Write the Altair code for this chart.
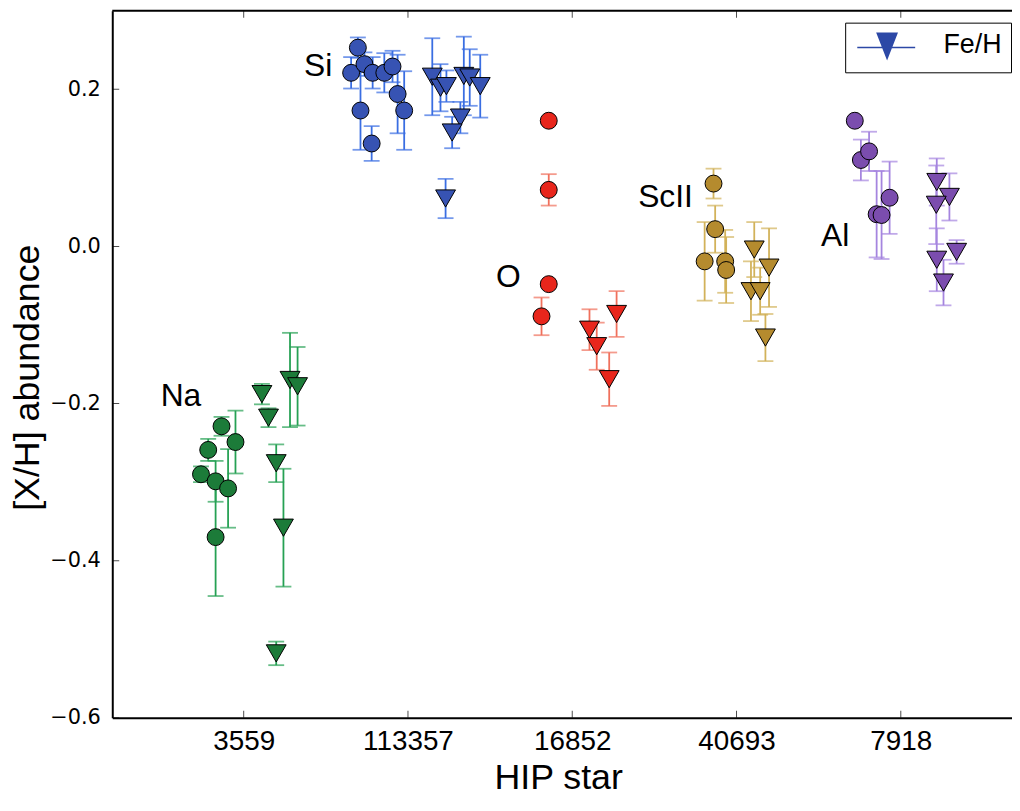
import altair as alt
import pandas as pd

# ---------------- data ----------------
stars = ["3559", "113357", "16852", "40693", "7918"]
star_pos = [1, 2, 3, 4, 5]
y_ticks = [-0.6, -0.4, -0.2, 0.0, 0.2]
x_domain = [0.2, 5.677]
y_domain = [-0.6, 0.3]
elements = ["Na", "Si", "O", "ScII", "Al"]
marker_colors = ["#1c7b39", "#3753b3", "#e8261c", "#b58b2e", "#7b4dae"]
bar_colors = ["#26a154", "#3a6ee2", "#f0705c", "#d2b25a", "#a585df"]

# [X/H] values (circles): x position, value, error
na_xh_x = [0.865, 0.950, 0.784, 0.740, 0.829, 0.905, 0.829]
na_xh_y = [-0.229, -0.249, -0.259, -0.290, -0.299, -0.308, -0.370]
na_xh_e = [0.012, 0.040, 0.014, 0.010, 0.026, 0.050, 0.075]
si_xh_x = [1.695, 1.654, 1.735, 1.785, 1.856, 1.906, 1.937, 1.977, 1.711, 1.779]
si_xh_y = [0.253, 0.221, 0.232, 0.221, 0.221, 0.229, 0.194, 0.173, 0.173, 0.131]
si_xh_e = [0.013, 0.020, 0.015, 0.020, 0.025, 0.020, 0.050, 0.050, 0.050, 0.022]
o_xh_x = [2.857, 2.857, 2.857, 2.813]
o_xh_y = [0.160, 0.072, -0.048, -0.089]
o_xh_e = [0.004, 0.020, 0.004, 0.024]
sc_xh_x = [3.860, 3.870, 3.806, 3.931, 3.937]
sc_xh_y = [0.080, 0.022, -0.019, -0.019, -0.030]
sc_xh_e = [0.019, 0.030, 0.050, 0.040, 0.042]
al_xh_x = [4.720, 4.757, 4.807, 4.932, 4.853, 4.883]
al_xh_y = [0.160, 0.110, 0.121, 0.062, 0.041, 0.040]
al_xh_e = [0.004, 0.026, 0.025, 0.046, 0.055, 0.056]

# [Fe/H] values (triangles): x position, value, error
na_fe_x = [1.111, 1.151, 1.198, 1.242, 1.198, 1.282, 1.328]
na_fe_y = [-0.188, -0.218, -0.276, -0.358, -0.518, -0.170, -0.178]
na_fe_e = [0.013, 0.012, 0.024, 0.075, 0.015, 0.060, 0.050]
si_fe_x = [2.148, 2.198, 2.234, 2.340, 2.376, 2.440, 2.319, 2.269, 2.229]
si_fe_y = [0.216, 0.202, 0.204, 0.217, 0.215, 0.204, 0.164, 0.145, 0.061]
si_fe_e = [0.049, 0.030, 0.020, 0.050, 0.036, 0.040, 0.020, 0.020, 0.025]
o_fe_x = [3.105, 3.149, 3.225, 3.270]
o_fe_y = [-0.106, -0.127, -0.169, -0.086]
o_fe_e = [0.026, 0.030, 0.034, 0.029]
sc_fe_x = [4.108, 4.198, 4.088, 4.144, 4.176]
sc_fe_y = [-0.004, -0.027, -0.057, -0.057, -0.116]
sc_fe_e = [0.035, 0.050, 0.038, 0.030, 0.030]
al_fe_x = [5.219, 5.296, 5.216, 5.340, 5.219, 5.260]
al_fe_y = [0.082, 0.063, 0.053, -0.007, -0.017, -0.046]
al_fe_e = [0.030, 0.030, 0.050, 0.015, 0.040, 0.029]

# element labels
label_x = [0.618, 1.453, 2.611, 3.568, 4.601]
label_y = [-0.2035, 0.2175, -0.0518, 0.0506, 0.0]

# ---------------- table ----------------
groups = [
    ("Na", "XH", na_xh_x, na_xh_y, na_xh_e), ("Na", "FeH", na_fe_x, na_fe_y, na_fe_e),
    ("Si", "XH", si_xh_x, si_xh_y, si_xh_e), ("Si", "FeH", si_fe_x, si_fe_y, si_fe_e),
    ("O", "XH", o_xh_x, o_xh_y, o_xh_e), ("O", "FeH", o_fe_x, o_fe_y, o_fe_e),
    ("ScII", "XH", sc_xh_x, sc_xh_y, sc_xh_e), ("ScII", "FeH", sc_fe_x, sc_fe_y, sc_fe_e),
    ("Al", "XH", al_xh_x, al_xh_y, al_xh_e), ("Al", "FeH", al_fe_x, al_fe_y, al_fe_e),
]
rows = []
for el, kind, xs, ys, es in groups:
    for x, y, e in zip(xs, ys, es):
        rows.append({"element": el, "kind": kind, "x": x, "y": y, "lo": y - e, "hi": y + e})
df = pd.DataFrame(rows)
labels_df = pd.DataFrame({"label": elements, "x": label_x, "y": label_y})

# ---------------- scales / axes ----------------
FONT = "Liberation Sans"
xscale = alt.Scale(domain=x_domain, nice=False, zero=False)
yscale = alt.Scale(domain=y_domain, nice=False, zero=False)
bar_scale = alt.Scale(domain=elements, range=bar_colors)
mk_scale = alt.Scale(domain=elements, range=marker_colors)

label_expr = " : ".join(
    f"datum.value == {p} ? '{s}'" for p, s in zip(star_pos, stars)
) + " : ''"

XAXIS = alt.Axis(values=star_pos, labelExpr=label_expr, title="HIP star",
                 labelFontSize=28, labelPadding=10,
                 titleFontSize=36, titleX=449, titleY=71, titleBaseline="alphabetic")
YAXIS = alt.Axis(values=y_ticks, format=".1f", title="[X/H] abundance",
                 labelFont="DejaVu Sans", labelFontSize=21, labelPadding=12,
                 titleFontSize=36, titleX=-66, titleY=369)


def X(f):
    return alt.X(f, scale=xscale, axis=XAXIS)


def Y(f):
    return alt.Y(f, scale=yscale, axis=YAXIS)


base = alt.Chart(df)

err = base.mark_rule(strokeWidth=1.8).encode(
    x=X("x:Q"), y=Y("lo:Q"), y2=alt.Y2("hi"),
    color=alt.Color("element:N", scale=bar_scale, legend=None),
)
cap_lo = base.mark_tick(orient="horizontal", size=16, thickness=1.8).encode(
    x=X("x:Q"), y=Y("lo:Q"), color=alt.Color("element:N", scale=bar_scale, legend=None),
)
cap_hi = base.mark_tick(orient="horizontal", size=16, thickness=1.8).encode(
    x=X("x:Q"), y=Y("hi:Q"), color=alt.Color("element:N", scale=bar_scale, legend=None),
)
circles = base.transform_filter(alt.datum.kind == "XH").mark_point(
    shape="circle", filled=True, size=290, opacity=1, stroke="black", strokeWidth=1
).encode(x=X("x:Q"), y=Y("y:Q"), fill=alt.Fill("element:N", scale=mk_scale, legend=None))
tris = base.transform_filter(alt.datum.kind == "FeH").mark_point(
    shape="triangle-down", filled=True, size=400, opacity=1, stroke="black", strokeWidth=1
).encode(x=X("x:Q"), y=Y("y:Q"), fill=alt.Fill("element:N", scale=mk_scale, legend=None))
texts = alt.Chart(labels_df).mark_text(
    font=FONT, fontSize=32, align="center", baseline="alphabetic", color="black"
).encode(x=X("x:Q"), y=Y("y:Q"), text="label:N")

# inward ticks (clipped at the frame) and top frame line
xt_df = pd.DataFrame({"t": star_pos, "bot": y_domain[0], "top": y_domain[1]})
yt_df = pd.DataFrame({"t": y_ticks, "left": x_domain[0]})
bottom_ticks = alt.Chart(xt_df).mark_tick(orient="vertical", size=14, thickness=1,
                                          color="black", clip=True).encode(
    x=X("t:Q"), y=Y("bot:Q"))
top_ticks = alt.Chart(xt_df).mark_tick(orient="vertical", size=14, thickness=1,
                                       color="black", clip=True).encode(
    x=X("t:Q"), y=Y("top:Q"))
left_ticks = alt.Chart(yt_df).mark_tick(orient="horizontal", size=14, thickness=1,
                                        color="black", clip=True).encode(
    y=Y("t:Q"), x=X("left:Q"))
top_line = alt.Chart(pd.DataFrame({"t": [y_domain[1]]})).mark_rule(
    color="black", strokeWidth=2).encode(y=Y("t:Q"))

# legend (Fe/H): line through a down-pointing triangle
LEG_PATH = ("M-1.03,0.17H4.8V0.33H-1.03Z"
            "M0.87,-1.25H3.07L1.97,1.55Z")
legend_layer = alt.Chart(pd.DataFrame({"leg": ["Fe/H"], "x": [0.0], "y": [0.0]})).mark_point(
    filled=True, clip=True, opacity=1, color="#2c48a6"
).encode(
    x=X("x:Q"), y=Y("y:Q"),
    shape=alt.Shape("leg:N", scale=alt.Scale(domain=["Fe/H"], range=[LEG_PATH]),
                    legend=alt.Legend(title=None, orient="none", legendX=738, legendY=12,
                                      padding=9, labelFont=FONT, labelFontSize=27,
                                      labelColor="black", labelOffset=63, symbolSize=400,
                                      strokeColor="black", fillColor="white",
                                      symbolFillColor="#2c48a6", symbolOpacity=1)),
)

chart = alt.layer(
    err, cap_lo, cap_hi, circles, tris, texts,
    bottom_ticks, top_ticks, left_ticks, top_line, legend_layer,
).properties(
    width=906, height=712,
    padding={"left": 105, "top": 0, "right": 0, "bottom": 79},
    autosize=alt.AutoSizeParams(type="none"),
).configure_view(stroke=None).configure_axis(
    ticks=False, grid=False, domain=True, domainColor="black", domainWidth=2,
    labelFont=FONT, labelColor="black", titleFont=FONT, titleColor="black",
    titleFontWeight="normal",
)

chart.save("out.html", embed_options={"renderer": "svg", "actions": False})
